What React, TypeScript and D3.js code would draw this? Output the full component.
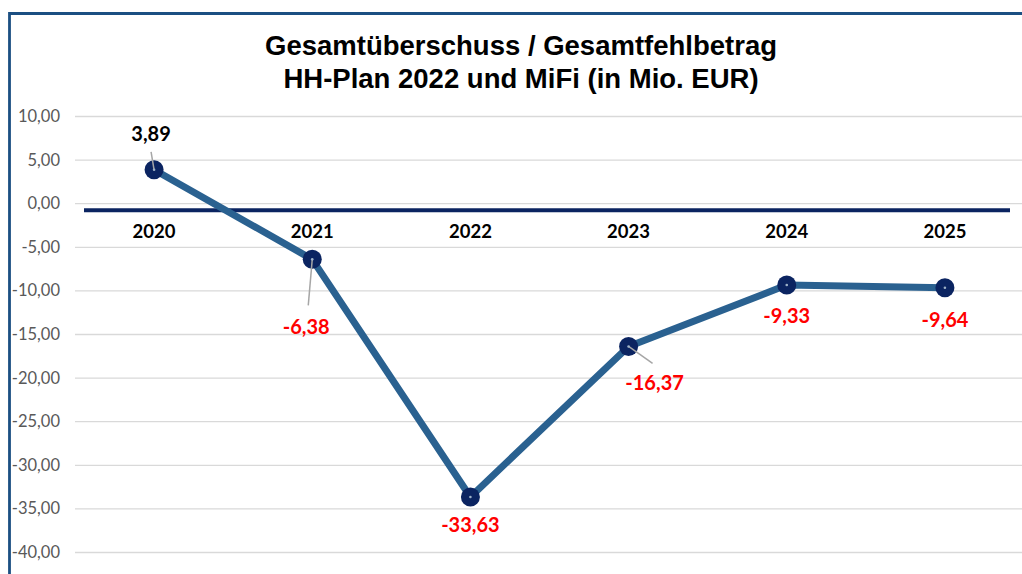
import React from 'react';
import * as d3 from 'd3';

const years = ['2020', '2021', '2022', '2023', '2024', '2025'];
const values = [3.89, -6.38, -33.63, -16.37, -9.33, -9.64];
const yTicks = [10, 5, 0, -5, -10, -15, -20, -25, -30, -35, -40];
const titleLines = ['Gesamtüberschuss / Gesamtfehlbetrag', 'HH-Plan 2022 und MiFi (in Mio. EUR)'];

// label placement relative to the marker (dx, dy) and where the leader line ends
const labelOffsets = [
  { dx: -3, dy: -29, leader: [-3, -18] },
  { dx: -6, dy: 75, leader: [-4, 46] },
  { dx: 0, dy: 35, leader: null },
  { dx: 26, dy: 44, leader: [24, 17] },
  { dx: 0, dy: 38, leader: null },
  { dx: 0, dy: 39, leader: null },
];

const fmt = (v: number) => v.toFixed(2).replace('.', ',');

export default function App() {
  const width = 1022;
  const height = 574;

  const x = d3.scaleBand().domain(years).range([75, 1024]);
  const y = d3.scaleLinear().domain([-40, 10]).range([552.5, 116.5]);
  const cx = (yr: string) => (x(yr) as number) + x.bandwidth() / 2;

  const line = d3
    .line<number>()
    .x((_, i) => cx(years[i]))
    .y((d) => y(d));

  const font = 'Lato, "Open Sans", sans-serif';

  return (
    <svg
      width={width}
      height={height}
      style={{ position: 'absolute', left: 0, top: 0, background: '#fff' }}
    >
      <rect x={0} y={0} width={width} height={height} fill="#fff" />
      <path d={`M9.5,${height} V13.5 H${width}`} fill="none" stroke="#1b4f82" strokeWidth={2.8} />

      {titleLines.map((t, i) => (
        <text
          key={t}
          x={521}
          y={55 + i * 33}
          textAnchor="middle"
          fontFamily='"Liberation Sans", Arial, sans-serif'
          fontWeight="bold"
          fontSize={27.5}
          fill="#000"
        >
          {t}
        </text>
      ))}

      {yTicks.map((t) => (
        <g key={t}>
          <line x1={75} x2={1024} y1={y(t)} y2={y(t)} stroke="#d9d9d9" strokeWidth={1.3} />
          <text
            x={60}
            y={y(t) + 5.5}
            textAnchor="end"
            fontFamily={font}
            fontSize={16.5}
            fill="#595959"
          >
            {fmt(t)}
          </text>
        </g>
      ))}

      <line x1={84} x2={1010} y1={y(0) + 6.5} y2={y(0) + 6.5} stroke="#0b2461" strokeWidth={4} />

      {years.map((yr) => (
        <text
          key={yr}
          x={cx(yr)}
          y={237.5}
          textAnchor="middle"
          fontFamily={font}
          fontWeight="bold"
          fontSize={18.5}
          fill="#000"
        >
          {yr}
        </text>
      ))}

      <path
        d={line(values) ?? ''}
        fill="none"
        stroke="#2a6190"
        strokeWidth={7}
        strokeLinejoin="round"
      />

      {values.map((v, i) => {
        const px = cx(years[i]);
        const py = y(v);
        const o = labelOffsets[i];
        return (
          <g key={years[i]}>
            <circle cx={px} cy={py} r={9.5} fill="#0b2461" />
            {o.leader && (
              <line
                x1={px}
                y1={py}
                x2={px + o.leader[0]}
                y2={py + o.leader[1]}
                stroke="#a6a6a6"
                strokeWidth={1.5}
              />
            )}
            <circle cx={px} cy={py} r={1.3} fill="#9fb3c8" />
            <text
              x={px + o.dx}
              y={py + o.dy}
              textAnchor="middle"
              fontFamily={font}
              fontWeight="bold"
              fontSize={20}
              fill={v < 0 ? '#ff0000' : '#000'}
            >
              {fmt(v)}
            </text>
          </g>
        );
      })}
    </svg>
  );
}
